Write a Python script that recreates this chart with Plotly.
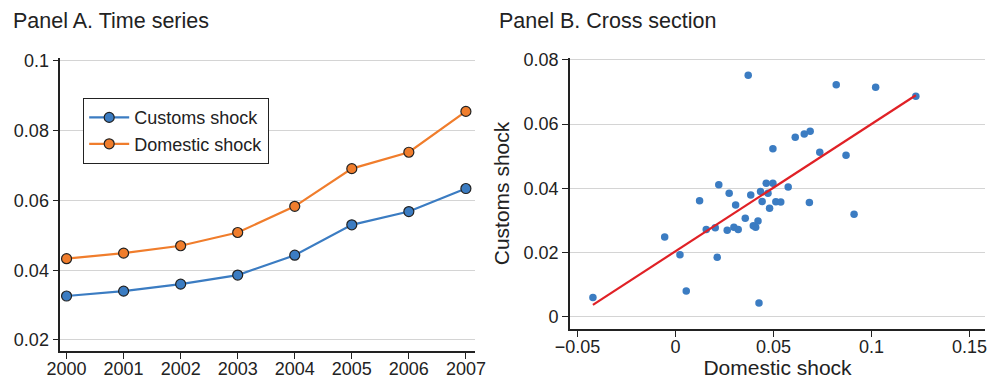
import numpy as np
import plotly.graph_objects as go

# ---- Panel A data ----
years = [2000, 2001, 2002, 2003, 2004, 2005, 2006, 2007]
customs_ts = [0.0326, 0.0340, 0.0360, 0.0386, 0.0443, 0.0530, 0.0568, 0.0634]
domestic_ts = [0.0433, 0.0449, 0.0470, 0.0508, 0.0583, 0.0691, 0.0738, 0.0855]

# ---- Panel B data ----
domestic_cs = [-0.0421, -0.0055, 0.0023, 0.0055, 0.0123, 0.0157, 0.0203, 0.0221,
               0.0213, 0.0264, 0.0274, 0.0298, 0.0307, 0.0320, 0.0356, 0.0371,
               0.0384, 0.0397, 0.0409, 0.0421, 0.0426, 0.0434, 0.0442, 0.0463,
               0.0472, 0.0480, 0.0497, 0.0497, 0.0512, 0.0537, 0.0575, 0.0611,
               0.0657, 0.0687, 0.0683, 0.0736, 0.0820, 0.0870, 0.0911, 0.1021,
               0.1226]
customs_cs = [0.0060, 0.0248, 0.0193, 0.0080, 0.0361, 0.0272, 0.0277, 0.0411,
              0.0185, 0.0269, 0.0385, 0.0279, 0.0348, 0.0272, 0.0307, 0.0752,
              0.0379, 0.0283, 0.0279, 0.0298, 0.0043, 0.0390, 0.0359, 0.0416,
              0.0385, 0.0338, 0.0416, 0.0523, 0.0358, 0.0357, 0.0404, 0.0559,
              0.0569, 0.0578, 0.0356, 0.0512, 0.0723, 0.0503, 0.0319, 0.0715,
              0.0687]

ya_ticks = [0.02, 0.04, 0.06, 0.08, 0.1]
ya_text = ["0.02", "0.04", "0.06", "0.08", "0.1"]
xb_ticks = [-0.05, 0, 0.05, 0.1, 0.15]
xb_text = ["\u22120.05", "0", "0.05", "0.1", "0.15"]
yb_ticks = [0, 0.02, 0.04, 0.06, 0.08]
yb_text = ["0", "0.02", "0.04", "0.06", "0.08"]

BLUE = "#3b7cc2"
ORANGE = "#f07d2c"
RED = "#e02126"
INK = "#222222"
GRID = "#d4d4d4"
FONT = "Liberation Sans, Arial, sans-serif"

# fitted line (OLS) over data range
slope, intercept = np.polyfit(domestic_cs, customs_cs, 1)
fit_x = np.array([min(domestic_cs), max(domestic_cs)])
fit_y = intercept + slope * fit_x

fig = go.Figure()
fig.add_trace(go.Scatter(x=years, y=customs_ts, name="Customs shock", mode="lines+markers",
                         line=dict(color=BLUE, width=2.2),
                         marker=dict(size=10, color=BLUE, line=dict(color=INK, width=1.2)),
                         xaxis="x", yaxis="y"))
fig.add_trace(go.Scatter(x=years, y=domestic_ts, name="Domestic shock", mode="lines+markers",
                         line=dict(color=ORANGE, width=2.2),
                         marker=dict(size=10, color=ORANGE, line=dict(color=INK, width=1.2)),
                         xaxis="x", yaxis="y"))
fig.add_trace(go.Scatter(x=domestic_cs, y=customs_cs, mode="markers", showlegend=False,
                         marker=dict(size=7.5, color=BLUE),
                         xaxis="x2", yaxis="y2"))
fig.add_trace(go.Scatter(x=fit_x, y=fit_y, mode="lines", showlegend=False,
                         line=dict(color=RED, width=2.2),
                         xaxis="x2", yaxis="y2"))

axis_common = dict(showline=True, linecolor=INK, linewidth=1.5, ticks="outside",
                   ticklen=6, tickcolor=INK, tickwidth=1.2, zeroline=False,
                   automargin=False,
                   tickfont=dict(size=18, color=INK, family=FONT))

fig.update_layout(
    template="none",
    width=988, height=379,
    margin=dict(l=0, r=0, t=0, b=0, autoexpand=False),
    paper_bgcolor="white", plot_bgcolor="white",
    font=dict(family=FONT, color=INK),
    xaxis=dict(domain=[0.061, 0.4808], range=[1999.89, 2007.16], tickvals=years,
               showgrid=False, anchor="y", ticklabelstandoff=-5, **axis_common),
    yaxis=dict(domain=[0.0739, 0.847], range=[0.01685, 0.1008], tickvals=ya_ticks,
               ticktext=ya_text, showgrid=True, gridcolor=GRID, gridwidth=1.2,
               anchor="x", **axis_common),
    xaxis2=dict(domain=[0.5769, 0.997], range=[-0.0538, 0.1579], tickvals=xb_ticks,
                ticktext=xb_text, showgrid=False, anchor="y2", ticklabelstandoff=-5,
                title=dict(text="Domestic shock", font=dict(size=21, color=INK), standoff=11),
                **axis_common),
    yaxis2=dict(domain=[0.1319, 0.847], range=[-0.00383, 0.0806], tickvals=yb_ticks,
                ticktext=yb_text, showgrid=True, gridcolor=GRID, gridwidth=1.2,
                anchor="x2", title=dict(text="Customs shock", font=dict(size=21, color=INK), standoff=8),
                **axis_common),
    legend=dict(x=0.084, y=0.7414, xanchor="left", yanchor="top",
                bordercolor=INK, borderwidth=1.2, bgcolor="white",
                font=dict(size=18, color=INK, family=FONT), itemwidth=40),
    annotations=[
        dict(text="Panel A. Time series", x=0.0111, y=0.9446, xref="paper", yref="paper",
             xanchor="left", yanchor="middle", showarrow=False,
             font=dict(size=21.5, color=INK, family=FONT)),
        dict(text="Panel B. Cross section", x=0.503, y=0.9446, xref="paper", yref="paper",
             xanchor="left", yanchor="middle", showarrow=False,
             font=dict(size=21.5, color=INK, family=FONT)),
    ],
)

fig.write_html("out.html",
               config={"displayModeBar": False},
               post_script="document.body.style.margin='0';document.body.style.overflow='hidden';")
